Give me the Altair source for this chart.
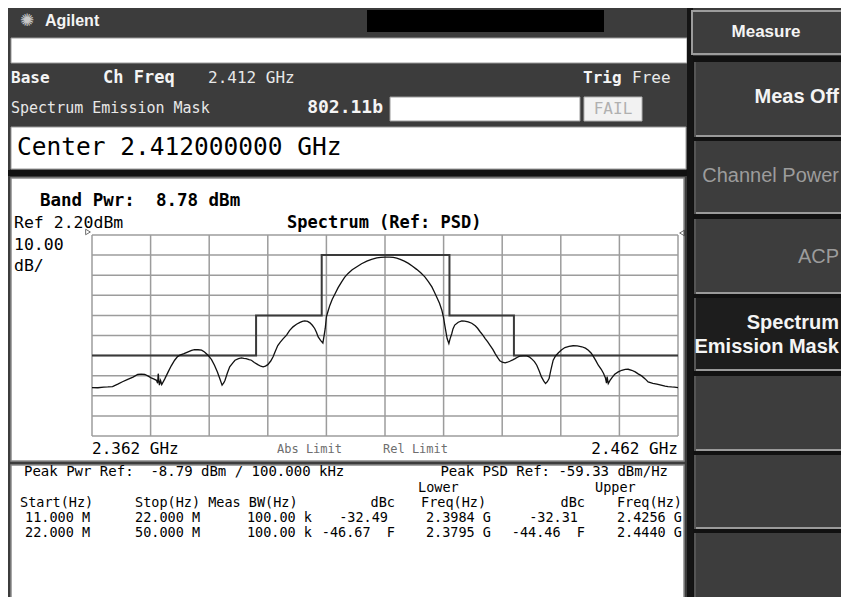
import altair as alt
import pandas as pd

# ---------------- data ----------------
trace_freq = [2.3620, 2.3630, 2.3640, 2.3647, 2.3655, 2.3664, 2.3672, 2.3681, 2.3690, 2.3698,
              2.3704, 2.3710, 2.3716, 2.3721, 2.3726, 2.3730, 2.3732, 2.3733, 2.3735, 2.3737,
              2.3739, 2.3744, 2.3750, 2.3755, 2.3761, 2.3766, 2.3770, 2.3777, 2.3784, 2.3790,
              2.3795, 2.3801, 2.3807, 2.3812, 2.3818, 2.3824, 2.3829, 2.3834, 2.3838, 2.3842,
              2.3845, 2.3847, 2.3851, 2.3855, 2.3860, 2.3864, 2.3870, 2.3875, 2.3879, 2.3883,
              2.3888, 2.3892, 2.3897, 2.3903, 2.3908, 2.3912, 2.3916, 2.3920, 2.3925, 2.3929,
              2.3933, 2.3937, 2.3941, 2.3946, 2.3952, 2.3957, 2.3963, 2.3969, 2.3975, 2.3979,
              2.3983, 2.3988, 2.3992, 2.3996, 2.4000, 2.4003, 2.4006, 2.4010, 2.4014, 2.4016,
              2.4018, 2.4020, 2.4023, 2.4026, 2.4030, 2.4035, 2.4040, 2.4046, 2.4051, 2.4057,
              2.4064, 2.4072, 2.4080, 2.4089, 2.4097, 2.4106, 2.4113, 2.4120, 2.4127, 2.4134,
              2.4140, 2.4146, 2.4153, 2.4160, 2.4167, 2.4174, 2.4181, 2.4188, 2.4194, 2.4200,
              2.4204, 2.4208, 2.4213, 2.4217, 2.4220, 2.4222, 2.4224, 2.4226, 2.4229, 2.4231,
              2.4234, 2.4236, 2.4239, 2.4245, 2.4251, 2.4256, 2.4262, 2.4268, 2.4274, 2.4278,
              2.4282, 2.4287, 2.4291, 2.4295, 2.4299, 2.4304, 2.4308, 2.4312, 2.4316, 2.4320,
              2.4325, 2.4329, 2.4333, 2.4338, 2.4342, 2.4346, 2.4350, 2.4356, 2.4362, 2.4366,
              2.4370, 2.4375, 2.4379, 2.4383, 2.4387, 2.4391, 2.4394, 2.4397, 2.4400, 2.4403,
              2.4407, 2.4411, 2.4416, 2.4421, 2.4427, 2.4434, 2.4441, 2.4448, 2.4456, 2.4462,
              2.4467, 2.4472, 2.4476, 2.4480, 2.4484, 2.4489, 2.4493, 2.4496, 2.4498, 2.4499,
              2.4501, 2.4504, 2.4508, 2.4512, 2.4518, 2.4524, 2.4530, 2.4535, 2.4541, 2.4547,
              2.4552, 2.4558, 2.4564, 2.4569, 2.4577, 2.4584, 2.4591, 2.4598, 2.4603, 2.4609,
              2.4614, 2.4620]
trace_dbm = [-73.7, -73.8, -73.5, -73.4, -73.2, -72.0, -70.8, -69.6, -68.5, -67.2,
             -67.0, -67.2, -68.0, -68.9, -69.5, -70.1, -71.5, -66.8, -72.5, -70.2,
             -72.2, -69.5, -65.9, -63.0, -60.1, -58.3, -57.6, -56.8, -55.9, -55.2,
             -54.8, -54.9, -55.1, -56.0, -57.6, -59.8, -62.6, -66.0, -69.2, -72.5,
             -71.3, -70.1, -66.5, -63.4, -61.5, -60.1, -59.3, -58.9, -59.2, -59.3,
             -59.8, -60.1, -61.2, -62.3, -63.1, -63.4, -63.0, -62.3, -60.5, -58.4,
             -55.5, -52.8, -51.2, -49.5, -47.6, -45.4, -43.5, -42.2, -41.3, -40.8,
             -40.5, -40.8, -41.5, -42.7, -44.3, -46.2, -48.5, -50.2, -51.5, -48.0,
             -44.3, -38.5, -35.5, -32.7, -29.8, -26.9, -24.0, -21.1, -18.9, -16.9,
             -15.1, -13.6, -12.1, -10.8, -9.9, -9.2, -8.9, -8.8, -8.8, -8.9,
             -9.3, -9.9, -10.8, -11.9, -13.3, -14.9, -16.6, -18.6, -21.0, -23.6,
             -26.0, -28.5, -31.8, -35.2, -39.0, -42.6, -46.0, -49.3, -51.8, -49.5,
             -46.8, -44.5, -42.6, -41.2, -40.5, -40.6, -41.0, -41.7, -43.0, -44.2,
             -45.8, -47.6, -49.3, -50.9, -52.6, -54.7, -56.8, -58.7, -60.4, -61.1,
             -61.4, -61.1, -60.6, -59.9, -59.3, -58.6, -58.1, -57.9, -57.9, -58.4,
             -59.3, -60.8, -62.6, -65.3, -68.4, -70.5, -71.7, -70.8, -69.2, -65.0,
             -60.1, -58.0, -56.4, -55.0, -53.8, -53.2, -52.9, -53.0, -53.4, -54.1,
             -55.1, -56.6, -58.4, -60.4, -62.6, -64.6, -66.7, -68.8, -71.5, -68.3,
             -71.7, -70.1, -68.5, -67.1, -65.9, -65.1, -64.7, -64.6, -65.1, -65.9,
             -66.9, -67.9, -69.4, -70.9, -71.6, -72.0, -72.5, -73.0, -73.2, -73.4,
             -73.5, -73.7]

mask_freq = [2.362, 2.390, 2.390, 2.4012, 2.4012, 2.423, 2.423, 2.434, 2.434, 2.462]
mask_dbm = [-57.8, -57.8, -37.8, -37.8, -7.8, -7.8, -37.8, -37.8, -57.8, -57.8]

grid_freq = [2.362, 2.372, 2.382, 2.392, 2.402, 2.412, 2.422, 2.432, 2.442, 2.452, 2.462]
grid_dbm = [2.2, -7.8, -17.8, -27.8, -37.8, -47.8, -57.8, -67.8, -77.8, -87.8, -97.8]

NB = "\u00a0"
start_hz = ["11.000 M", "22.000 M"]
stop_hz = ["22.000 M", "50.000 M"]
meas_bw = ["100.00 k", "100.00 k"]
lower_dbc = ["-32.49", "-46.67" + NB + NB + "F"]
lower_freq = ["2.3984 G", "2.3795 G"]
upper_dbc = ["-32.31", "-44.46" + NB + NB + "F"]
upper_freq = ["2.4256 G", "2.4440 G"]

softkeys = ["Meas Off", "Channel Power", "ACP", "Spectrum\nEmission Mask", "", "", ""]

# ---------------- helpers ----------------
OFF = 8  # page margin: reference pixel -> canvas pixel
MONO = "DejaVu Sans Mono"
SANS = "Liberation Sans, Arial, sans-serif"
one = alt.Data(values=[{"k": 0}])


def cx(v):
    return v - OFF


def rect(x0, y0, x1, y1, fill, stroke=None, sw=1.0):
    kw = {"fill": fill}
    if stroke:
        kw.update(stroke=stroke, strokeWidth=sw)
    else:
        kw.update(strokeWidth=0)
    return alt.Chart(one).mark_rect(**kw).encode(
        x=alt.value(cx(x0)), x2=alt.value(cx(x1)),
        y=alt.value(cx(y0)), y2=alt.value(cx(y1)))


def txt(s, x, y, size, color="#000000", weight="normal", align="left", font=MONO):
    return alt.Chart(one).mark_text(
        text=s, align=align, baseline="middle", fontSize=size,
        fontWeight=weight, color=color, font=font,
        lineHeight=size * 1.2).encode(x=alt.value(cx(x)), y=alt.value(cx(y)))


xscale = alt.Scale(domain=[2.362, 2.462], range=[cx(92), cx(678)])
yscale = alt.Scale(domain=[-97.8, 2.2], range=[cx(436), cx(235)])

layers = []
# ---------------- instrument chrome ----------------
layers += [
    rect(367, 10, 604, 32, "#000000"),
    rect(11, 38, 687, 63, "#ffffff", "#9a9a9a", 1),
    rect(390, 97, 580, 121, "#ffffff", "#9a9a9a", 1),
    rect(584, 97, 642, 121, "#f2f2f2", "#b0b0b0", 1),
    rect(11, 127, 686, 169, "#ffffff", "#9a9a9a", 1),
    rect(8, 170, 690, 176, "#111111"),
    rect(687, 0, 693, 605, "#141414"),
    rect(11, 178, 684, 461, "#ffffff", "#8a8a8a", 1.5),
    rect(11, 465, 684, 602, "#ffffff", "#8a8a8a", 1.5),
    # soft key column
    rect(692, 11, 849, 54, "#3d3d3d", "#9c9c9c", 2),
    rect(693, 56, 849, 605, "#111111"),
]
btn_tops = [62, 141, 219, 298, 376, 455, 533]
btn_bots = [137, 214, 294, 371, 451, 529, 605]
for i, (t, b) in enumerate(zip(btn_tops, btn_bots)):
    fill = "#1d1d1d" if i == 3 else "#3d3d3d"
    layers.append(rect(694, t, 849, b, fill))
    layers.append(rect(694, b - 2, 849, b, "#9a9a9a"))
    layers.append(rect(694, t, 696, b, "#555555"))

# ---------------- spectrum grid, mask and trace ----------------
gv = alt.Chart(pd.DataFrame({"f": grid_freq})).mark_rule(color="#9c9c9c", strokeWidth=1.5).encode(
    x=alt.X("f:Q", scale=xscale, axis=None),
    y=alt.Y(datum=2.2, scale=yscale, axis=None), y2=alt.Y2(datum=-97.8))
gh = alt.Chart(pd.DataFrame({"d": grid_dbm})).mark_rule(color="#9c9c9c", strokeWidth=1.5).encode(
    y=alt.Y("d:Q", scale=yscale, axis=None),
    x=alt.X(datum=2.362, scale=xscale, axis=None), x2=alt.X2(datum=2.462))
mask = alt.Chart(pd.DataFrame({"f": mask_freq, "d": mask_dbm, "i": range(len(mask_freq))})).mark_line(
    color="#3a3a3a", strokeWidth=2).encode(
    x=alt.X("f:Q", scale=xscale, axis=None), y=alt.Y("d:Q", scale=yscale, axis=None),
    order=alt.Order("i:Q"))
trace = alt.Chart(pd.DataFrame({"f": trace_freq, "d": trace_dbm, "i": range(len(trace_freq))})).mark_line(
    color="#111111", strokeWidth=1.3).encode(
    x=alt.X("f:Q", scale=xscale, axis=None), y=alt.Y("d:Q", scale=yscale, axis=None),
    order=alt.Order("i:Q"))
layers += [gv, gh, mask, trace]

# reference-level markers at both ends of the top graticule line
layers += [
    alt.Chart(one).mark_point(shape="triangle-right", filled=False, size=30, color="#333333",
                              strokeWidth=1).encode(x=alt.value(cx(88)), y=alt.value(cx(232))),
    alt.Chart(one).mark_point(shape="triangle-left", filled=False, size=30, color="#333333",
                              strokeWidth=1).encode(x=alt.value(cx(682)), y=alt.value(cx(233))),
]

# ---------------- texts ----------------
W = "#f4f4f4"
layers += [
    txt("\u273a", 27, 21, 17, "#c8c8c8", align="center", font="DejaVu Sans"),
    txt("Agilent", 45, 21, 16, W, "bold", font=SANS),
    txt("Base", 11, 78, 16, W, "bold"),
    txt("Ch Freq", 103, 78, 17, W, "bold"),
    txt("2.412 GHz", 208, 78, 16, "#e8e8e8"),
    txt("Trig", 583, 78, 16, W, "bold"),
    txt("Free", 632, 78, 16, "#e8e8e8"),
    txt("Spectrum Emission Mask", 11, 108, 15, "#e8e8e8"),
    txt("802.11b", 383, 108, 18, W, "bold", align="right"),
    txt("FAIL", 613, 109, 16, "#b0b0b0", align="center"),
    txt("Center 2.412000000 GHz", 17, 148, 24.5, "#000000"),
    # chart panel
    txt("Band Pwr:" + NB + NB + "8.78 dBm", 40, 201, 17.5, "#000000", "bold"),
    txt("Ref 2.20dBm", 14, 223, 16.5, "#000000"),
    txt("10.00", 14, 245, 16.5, "#000000"),
    txt("dB/", 14, 266, 16.5, "#000000"),
    txt("Spectrum (Ref: PSD)", 287, 223, 17, "#000000", "bold"),
    txt("2.362 GHz", 92, 449, 16, "#000000"),
    txt("2.462 GHz", 678, 449, 16, "#000000", align="right"),
    txt("Abs Limit", 277, 449, 12, "#6e6e6e"),
    txt("Rel Limit", 383, 449, 12, "#6e6e6e"),
    # table panel
    txt("Peak Pwr Ref:" + NB + NB + "-8.79 dBm / 100.000 kHz", 24, 472, 14),
    txt("Peak PSD Ref: -59.33 dBm/Hz", 668, 472, 14, align="right"),
    txt("Lower", 418, 488, 13.5),
    txt("Upper", 595, 488, 13.5),
    txt("Start(Hz)", 20, 503, 13.5),
    txt("Stop(Hz) Meas BW(Hz)", 135, 503, 13.5),
    txt("dBc", 395, 503, 13.5, align="right"),
    txt("Freq(Hz)", 421, 503, 13.5),
    txt("dBc", 585, 503, 13.5, align="right"),
    txt("Freq(Hz)", 682, 503, 13.5, align="right"),
]
row_y = [518, 533]
lower_right = [388, 395]
upper_right = [578, 585]
for r in range(2):
    y = row_y[r]
    layers += [
        txt(start_hz[r], 25, y, 13.5),
        txt(stop_hz[r], 135, y, 13.5),
        txt(meas_bw[r], 312, y, 13.5, align="right"),
        txt(lower_dbc[r], lower_right[r], y, 13.5, align="right"),
        txt(lower_freq[r], 491, y, 13.5, align="right"),
        txt(upper_dbc[r], upper_right[r], y, 13.5, align="right"),
        txt(upper_freq[r], 682, y, 13.5, align="right"),
    ]

# soft keys
layers.append(txt("Measure", 766, 32, 17, W, "bold", align="center", font=SANS))
key_y = [97, 176, 257, 334]
key_color = [W, "#9c9c9c", "#9c9c9c", W]
key_weight = ["bold", "normal", "normal", "bold"]
for i in range(4):
    label = softkeys[i].split("\n")
    layers.append(txt(label, 839, key_y[i] - (11 if len(label) > 1 else 0), 20,
                      key_color[i], key_weight[i], align="right", font=SANS))

chart = alt.layer(*layers).properties(
    width=833, height=589, autosize="none", padding=0, background="#3c3c3c"
).configure_view(stroke=None)

chart.save("out.html", embed_options={"renderer": "svg", "actions": False})
